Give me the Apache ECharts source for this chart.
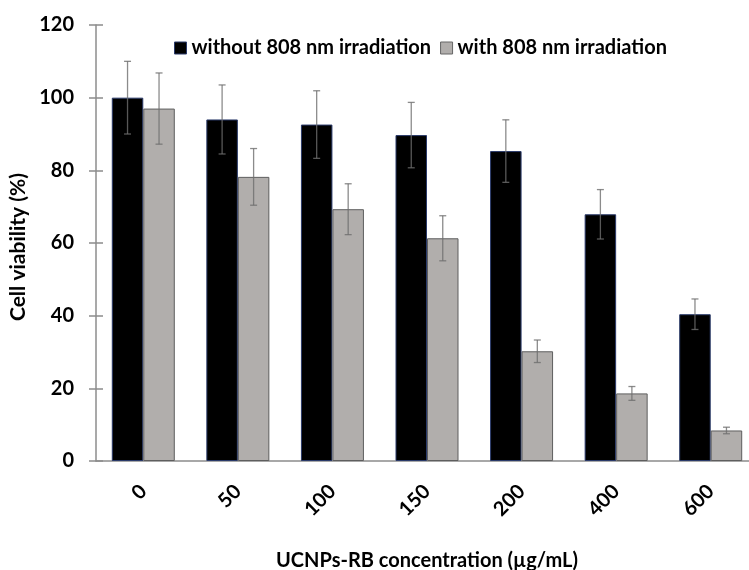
<!DOCTYPE html>
<html>
<head>
<meta charset="utf-8">
<script src="https://cdn.jsdelivr.net/npm/echarts@6/dist/echarts.min.js"></script>
<style>html,body{margin:0;padding:0;background:#fff;}#c{width:749px;height:570px;}</style>
</head>
<body>
<div id="c"></div>
<script>
var categories = ['0', '50', '100', '150', '200', '400', '600'];
var withoutIrr = [100, 94.0, 92.6, 89.7, 85.3, 67.9, 40.4];
var withoutErr = [10.0, 9.5, 9.3, 9.0, 8.6, 6.8, 4.2];
var withIrr = [97.0, 78.2, 69.3, 61.3, 30.2, 18.6, 8.4];
var withErr = [9.8, 7.8, 7.0, 6.2, 3.1, 1.9, 0.9];
var seriesNames = ['without 808 nm irradiation', 'with 808 nm irradiation'];
var yTicks = [0, 20, 40, 60, 80, 100, 120];

var FONT = 'Lato, "Open Sans", sans-serif';
var BAR_W = 31.5;

function errData(vals, errs) {
  return vals.map(function (v, i) { return [i, v, errs[i]]; });
}
function errRender(offset) {
  return function (params, api) {
    var i = api.value(0), v = api.value(1), e = api.value(2);
    var top = api.coord([i, v + e]);
    var bot = api.coord([i, v - e]);
    var x = top[0] + offset;
    var cap = 3.5;
    var style = { stroke: 'rgba(110,110,110,0.8)', lineWidth: 1.3 };
    return {
      type: 'group',
      children: [
        { type: 'line', shape: { x1: x, y1: top[1], x2: x, y2: bot[1] }, style: style },
        { type: 'line', shape: { x1: x - cap, y1: top[1], x2: x + cap, y2: top[1] }, style: style },
        { type: 'line', shape: { x1: x - cap, y1: bot[1], x2: x + cap, y2: bot[1] }, style: style }
      ]
    };
  };
}

var chart = echarts.init(document.getElementById('c'), null, { renderer: 'canvas' });
chart.setOption({
  animation: false,
  backgroundColor: '#ffffff',
  textStyle: { fontFamily: FONT },
  legend: {
    left: 169, top: 33,
    itemWidth: 12, itemHeight: 12, itemGap: 9,
    textStyle: { fontFamily: FONT, fontWeight: 'bold', fontSize: 20, color: '#000' },
    data: [
      { name: seriesNames[0], icon: 'rect', itemStyle: { color: '#000', borderColor: '#2a3a6a', borderWidth: 1 } },
      { name: seriesNames[1], icon: 'rect', itemStyle: { color: '#b1aeac', borderColor: '#666', borderWidth: 1 } }
    ]
  },
  grid: { left: 96, top: 25, bottom: 109, width: 662, containLabel: false, outerBoundsMode: 'none' },
  xAxis: {
    type: 'category',
    data: categories,
    axisLine: { lineStyle: { color: '#8c8c8c', width: 1.5 } },
    axisTick: { show: false },
    axisLabel: { rotate: 45, margin: 27, fontFamily: FONT, fontWeight: 'bold', fontSize: 20, color: '#000' },
    name: 'UCNPs-RB concentration (\u00b5g/mL)',
    nameLocation: 'middle',
    nameGap: 90,
    nameTextStyle: { fontFamily: FONT, fontWeight: 'bold', fontSize: 20, color: '#000' }
  },
  yAxis: [
    {
      type: 'value', min: 0, max: 120, interval: 20,
      position: 'left',
      splitLine: { show: false },
      axisLine: { show: true, lineStyle: { color: '#8c8c8c', width: 1.5 } },
      axisTick: { show: true, length: 7, lineStyle: { color: '#8c8c8c', width: 1.5 } },
      axisLabel: { margin: 22, fontFamily: FONT, fontWeight: 'bold', fontSize: 20, color: '#000',
        formatter: function (v) { return yTicks.indexOf(v) >= 0 ? String(v) : ''; } },
      name: 'Cell viability (%)',
      nameLocation: 'middle',
      nameRotate: 90,
      nameGap: 57,
      nameTextStyle: { fontFamily: FONT, fontWeight: 'bold', fontSize: 21, color: '#000', padding: [0, 8, 0, 0] }
    },
    {
      type: 'value', min: 0, max: 120, interval: 20,
      position: 'left',
      splitLine: { show: false },
      axisLine: { show: false },
      axisTick: { show: true, inside: true, length: 7, lineStyle: { color: '#8c8c8c', width: 1.5 } },
      axisLabel: { show: false }
    }
  ],
  series: [
    {
      name: seriesNames[0], type: 'bar', data: withoutIrr,
      barWidth: BAR_W, barGap: '0%',
      itemStyle: { color: '#000', borderColor: '#2a3a6a', borderWidth: 1 }
    },
    {
      name: seriesNames[1], type: 'bar', data: withIrr,
      barWidth: BAR_W, barGap: '0%',
      itemStyle: { color: '#b1aeac', borderColor: '#5e5e5e', borderWidth: 1 }
    },
    {
      type: 'custom', name: 'err0', z: 10, silent: true,
      data: errData(withoutIrr, withoutErr),
      encode: { x: 0, y: 1 },
      renderItem: errRender(-BAR_W / 2)
    },
    {
      type: 'custom', name: 'err1', z: 10, silent: true,
      data: errData(withIrr, withErr),
      encode: { x: 0, y: 1 },
      renderItem: errRender(BAR_W / 2)
    }
  ]
});
</script>
</body>
</html>
